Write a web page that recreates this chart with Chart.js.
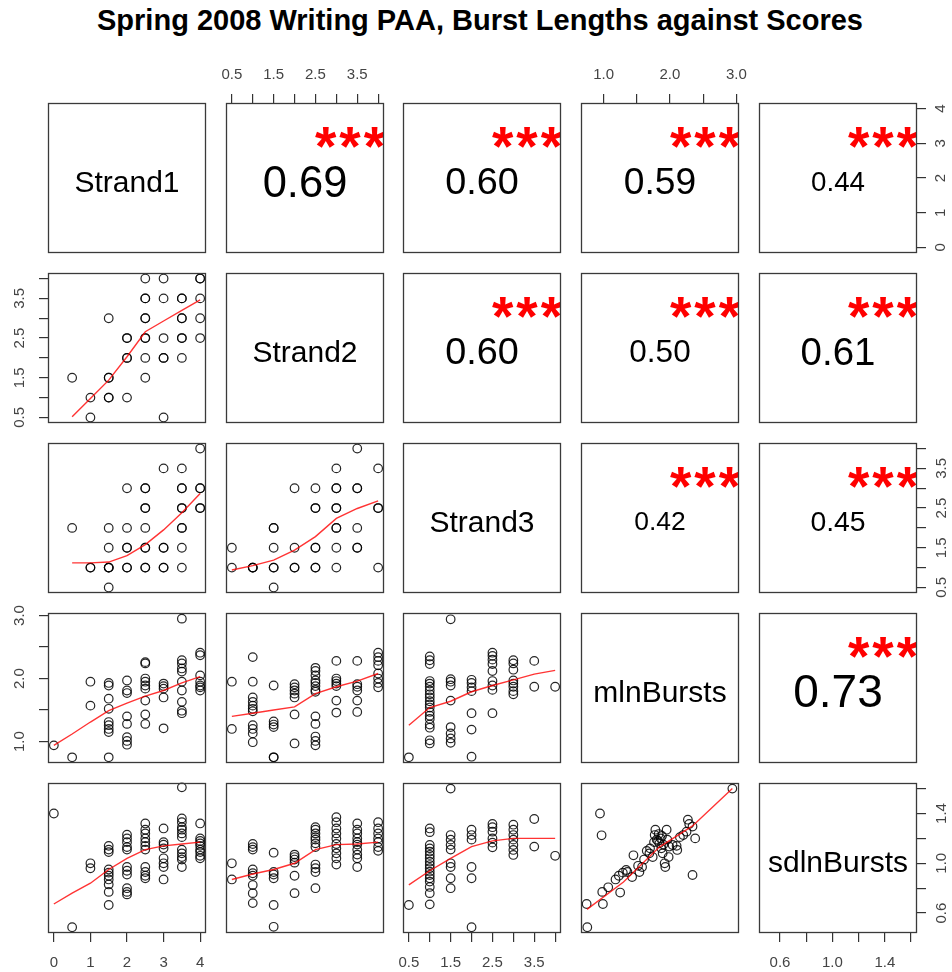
<!DOCTYPE html>
<html lang="en">
<head>
<meta charset="UTF-8">
<title>Spring 2008 Writing PAA, Burst Lengths against Scores</title>
<script src="https://cdn.jsdelivr.net/npm/chart.js"></script>
<style>
  body { margin: 0; background: #fff; }
  #wrap { position: relative; width: 952px; height: 972px; overflow: hidden; font-family: 'Liberation Sans', Arial, sans-serif; }
  #title { position: absolute; left: 4px; top: 6px; width: 952px; text-align: center; font-weight: bold; font-size: 29px; line-height: 29px; color: #000; }
  #wrap canvas { position: absolute; }
</style>
</head>
<body>
<div id="wrap">
  <div id="title">Spring 2008 Writing PAA, Burst Lengths against Scores</div>
</div>
<script>
// variables, axis ranges and ticks
const varNames = ['Strand1', 'Strand2', 'Strand3', 'mlnBursts', 'sdlnBursts'];
const axisMin = [-0.16, 0.36, 0.36, 0.66, 0.44];
const axisMax = [4.16, 4.14, 4.14, 3.04, 1.645];
const tickValues = [
  [0, 1, 2, 3, 4],
  [0.5, 1, 1.5, 2, 2.5, 3, 3.5, 4],
  [0.5, 1, 1.5, 2, 2.5, 3, 3.5, 4],
  [1, 1.5, 2, 2.5, 3],
  [0.6, 0.8, 1, 1.2, 1.4, 1.6]
];
const tickLabels = [
  ['0', '1', '2', '3', '4'],
  ['0.5', '', '1.5', '', '2.5', '', '3.5', ''],
  ['0.5', '', '1.5', '', '2.5', '', '3.5', ''],
  ['1.0', '', '2.0', '', '3.0'],
  ['0.6', '', '1.0', '', '1.4', '']
];

// upper triangle: correlations, row by row
const corrValues = [0.69, 0.60, 0.59, 0.44, 0.60, 0.50, 0.61, 0.42, 0.45, 0.73];
const corrStars = ['***', '***', '***', '***', '***', '***', '***', '***', '***', '***'];

// lower triangle scatter points [x, y]
const s1_s2 = [[2.5,4],[3,4],[4,4],[4,4],[2.5,3.5],[2.5,3.5],[3,3.5],[3.5,3.5],[3.5,3.5],[4,3.5],
  [1.5,3],[2.5,3],[2.5,3],[3.5,3],[3.5,3],[4,3],[2,2.5],[2,2.5],[2.5,2.5],[2.5,2.5],[3,2.5],[3.5,2.5],[3.5,2.5],[4,2.5],
  [2,2],[2,2],[2.5,2],[3,2],[3,2],[3.5,2],[0.5,1.5],[1.5,1.5],[1.5,1.5],[2.5,1.5],[1,1],[1.5,1],[1.5,1],[2,1],[1,0.5],[3,0.5]];
const s1_s3 = [[4,4],[3,3.5],[3.5,3.5],[2,3],[2.5,3],[2.5,3],[3.5,3],[3.5,3],[4,3],[4,3],
  [2.5,2.5],[2.5,2.5],[3.5,2.5],[3.5,2.5],[4,2.5],[4,2.5],[0.5,2],[1.5,2],[2,2],[2.5,2],[3.5,2],[3.5,2],
  [1.5,1.5],[2,1.5],[2,1.5],[2.5,1.5],[2.5,1.5],[3,1.5],[3,1.5],[3.5,1.5],
  [1,1],[1,1],[1.5,1],[1.5,1],[1.5,1],[2,1],[2,1],[2.5,1],[2.5,1],[3,1],[3,1],[3.5,1],[1.5,0.5]];
const s2_s3 = [[3.5,4],[3,3.5],[4,3.5],[2,3],[2.5,3],[3,3],[3,3],[3.5,3],[3.5,3],
  [2.5,2.5],[2.5,2.5],[3,2.5],[3,2.5],[4,2.5],[4,2.5],[1.5,2],[1.5,2],[3,2],[3,2],[3.5,2],
  [0.5,1.5],[1.5,1.5],[2,1.5],[2.5,1.5],[2.5,1.5],[3,1.5],[3.5,1.5],[3.5,1.5],
  [0.5,1],[1,1],[1,1],[1,1],[1.5,1],[1.5,1],[2,1],[2,1],[2.5,1],[2.5,1],[3,1],[4,1],[1.5,0.5]];
const s1_mln = [[0,0.94],[0.5,0.75],[1,1.95],[1,1.57],
  [1.5,1.93],[1.5,1.89],[1.5,1.68],[1.5,1.52],[1.5,1.31],[1.5,1.26],[1.5,1.20],[1.5,1.15],[1.5,0.75],
  [2,1.97],[2,1.81],[2,1.77],[2,1.40],[2,1.28],[2,1.07],[2,1.01],[2,0.95],
  [2.5,2.26],[2.5,2.24],[2.5,2.00],[2.5,1.95],[2.5,1.89],[2.5,1.84],[2.5,1.65],[2.5,1.43],[2.5,1.28],
  [3,1.92],[3,1.88],[3,1.84],[3,1.70],[3,1.21],
  [3.5,2.95],[3.5,2.29],[3.5,2.24],[3.5,2.16],[3.5,2.11],[3.5,1.95],[3.5,1.81],[3.5,1.63],[3.5,1.49],[3.5,1.45],
  [4,2.41],[4,2.37],[4,2.05],[4,1.95],[4,1.89],[4,1.86],[4,1.81]];
const s2_mln = [[0.5,1.95],[0.5,1.20],
  [1,2.34],[1,1.95],[1,1.70],[1,1.63],[1,1.57],[1,1.52],[1,1.48],[1,1.26],[1,1.20],[1,1.13],[1,0.99],
  [1.5,1.89],[1.5,1.32],[1.5,1.27],[1.5,1.23],[1.5,0.75],[1.5,0.75],
  [2,1.91],[2,1.86],[2,1.81],[2,1.76],[2,1.70],[2,1.43],[2,0.97],
  [2.5,2.17],[2.5,2.12],[2.5,2.05],[2.5,1.97],[2.5,1.93],[2.5,1.88],[2.5,1.82],[2.5,1.79],[2.5,1.40],[2.5,1.28],[2.5,1.08],[2.5,1.01],[2.5,0.94],
  [3,2.28],[3,2.00],[3,1.96],[3,1.92],[3,1.88],[3,1.65],[3,1.46],
  [3.5,2.28],[3.5,1.91],[3.5,1.87],[3.5,1.81],[3.5,1.65],[3.5,1.47],
  [4,2.41],[4,2.34],[4,2.28],[4,2.21],[4,2.08],[4,2.00],[4,1.93],[4,1.86]];
const s3_mln = [[0.5,0.75],
  [1,2.35],[1,2.29],[1,2.23],[1,1.96],[1,1.92],[1,1.87],[1,1.81],[1,1.75],[1,1.70],[1,1.64],[1,1.59],[1,1.54],[1,1.47],[1,1.41],[1,1.36],[1,1.27],[1,1.22],[1,1.02],[1,0.97],
  [1.5,2.94],[1.5,1.99],[1.5,1.95],[1.5,1.89],[1.5,1.65],[1.5,1.23],[1.5,1.13],[1.5,1.05],[1.5,0.98],
  [2,1.98],[2,1.93],[2,1.86],[2,1.80],[2,1.45],[2,1.19],[2,0.76],
  [2.5,2.41],[2.5,2.36],[2.5,2.30],[2.5,2.23],[2.5,2.12],[2.5,1.96],[2.5,1.89],[2.5,1.82],[2.5,1.45],
  [3,2.29],[3,2.24],[3,2.14],[3,1.97],[3,1.92],[3,1.87],[3,1.80],[3,1.75],
  [3.5,2.28],[3.5,1.87],[4,1.87]];
const s1_sd = [[0,1.40],[0.5,0.486],[1,1.00],[1,0.96],
  [1.5,1.14],[1.5,1.11],[1.5,1.09],[1.5,0.95],[1.5,0.925],[1.5,0.90],[1.5,0.87],[1.5,0.83],[1.5,0.77],[1.5,0.665],
  [2,1.23],[2,1.20],[2,1.17],[2,1.13],[2,1.11],[2,0.97],[2,0.94],[2,0.91],[2,0.80],[2,0.77],[2,0.75],
  [2.5,1.32],[2.5,1.27],[2.5,1.24],[2.5,1.20],[2.5,1.17],[2.5,1.14],[2.5,1.11],[2.5,0.97],[2.5,0.93],[2.5,0.90],[2.5,0.88],
  [3,1.28],[3,1.17],[3,1.15],[3,1.12],[3,1.04],[3,1.00],[3,0.97],[3,0.87],
  [3.5,1.61],[3.5,1.36],[3.5,1.33],[3.5,1.29],[3.5,1.27],[3.5,1.24],[3.5,1.21],[3.5,1.11],[3.5,1.08],[3.5,1.05],[3.5,1.03],[3.5,0.97],
  [4,1.32],[4,1.20],[4,1.18],[4,1.16],[4,1.14],[4,1.11],[4,1.09],[4,1.06],[4,1.04]];
const s2_sd = [[0.5,1.00],[0.5,0.87],
  [1,1.155],[1,1.13],[1,1.11],[1,0.95],[1,0.92],[1,0.90],[1,0.825],[1,0.76],[1,0.68],
  [1.5,1.085],[1.5,0.93],[1.5,0.91],[1.5,0.88],[1.5,0.665],[1.5,0.49],
  [2,1.07],[2,1.05],[2,1.03],[2,1.005],[2,0.90],[2,0.76],
  [2.5,1.29],[2.5,1.27],[2.5,1.24],[2.5,1.21],[2.5,1.19],[2.5,1.16],[2.5,1.13],[2.5,0.99],[2.5,0.96],[2.5,0.93],[2.5,0.80],
  [3,1.37],[3,1.33],[3,1.28],[3,1.24],[3,1.20],[3,1.155],[3,1.12],[3,1.08],[3,1.04],[3,0.99],
  [3.5,1.32],[3.5,1.27],[3.5,1.24],[3.5,1.20],[3.5,1.17],[3.5,1.15],[3.5,1.11],[3.5,1.07],[3.5,1.04],[3.5,0.97],
  [4,1.33],[4,1.28],[4,1.24],[4,1.20],[4,1.17],[4,1.13],[4,1.10]];
const s3_sd = [[0.5,0.665],
  [1,1.28],[1,1.25],[1,1.147],[1,1.12],[1,1.094],[1,1.067],[1,1.04],[1,1.013],[1,0.986],[1,0.96],[1,0.933],[1,0.906],[1,0.88],[1,0.853],[1,0.81],[1,0.76],[1,0.67],
  [1.5,1.60],[1.5,1.227],[1.5,1.19],[1.5,1.147],[1.5,1.11],[1.5,1.00],[1.5,0.97],[1.5,0.88],[1.5,0.80],
  [2,1.27],[2,1.227],[2,1.19],[2,0.97],[2,0.88],[2,0.486],
  [2.5,1.316],[2.5,1.29],[2.5,1.254],[2.5,1.20],[2.5,1.166],[2.5,1.128],
  [3,1.31],[3,1.27],[3,1.227],[3,1.19],[3,1.147],[3,1.107],[3,1.067],
  [3.5,1.356],[3.5,1.134],[4,1.06]];
const mln_sd = [[2.94,1.60],[0.755,0.486],[0.745,0.673],[0.946,1.40],[0.97,1.225],[0.99,0.673],[0.98,0.77],
  [1.07,0.807],[1.18,0.87],[1.25,0.765],[1.23,0.90],[1.29,0.925],[1.34,0.946],[1.36,0.93],[1.43,0.89],[1.45,1.064],
  [1.52,0.98],[1.54,0.93],[1.58,0.97],[1.61,1.03],[1.65,1.10],[1.69,1.08],[1.70,1.12],[1.74,1.05],[1.76,1.17],
  [1.77,1.227],[1.78,1.27],[1.80,1.19],[1.82,1.18],[1.83,1.235],[1.84,1.16],[1.86,1.20],[1.87,1.12],[1.88,1.22],
  [1.89,1.08],[1.90,1.15],[1.92,1.00],[1.93,0.97],[1.95,1.27],[1.96,1.19],[1.98,1.05],[1.99,1.134],[2.04,1.147],
  [2.10,1.14],[2.11,1.107],[2.15,1.21],[2.20,1.227],[2.25,1.254],[2.27,1.35],[2.29,1.316],[2.34,1.295],[2.38,1.20],[2.34,0.906]];

// red smoother lines
const fit_s1_s2 = [[0.5,0.52],[1,0.98],[1.5,1.44],[2,2.03],[2.5,2.66],[3,2.93],[3.5,3.2],[4,3.46]];
const fit_s1_s3 = [[0.5,1.12],[1,1.12],[1.5,1.14],[2,1.3],[2.5,1.58],[3,1.95],[3.5,2.38],[4,2.87]];
const fit_s2_s3 = [[0.5,0.94],[1,1.05],[1.5,1.19],[2,1.44],[2.5,1.78],[3,2.24],[3.5,2.49],[4,2.68]];
const fit_s1_mln = [[0,0.94],[0.5,1.12],[1,1.31],[1.5,1.49],[2,1.61],[2.5,1.72],[3,1.81],[3.5,1.93],[4,2.03]];
const fit_s2_mln = [[0.5,1.40],[1,1.45],[1.5,1.5],[2,1.55],[2.5,1.76],[3,1.87],[3.5,1.96],[4,2.08]];
const fit_s3_mln = [[0.5,1.26],[1,1.54],[1.5,1.64],[2,1.79],[2.5,1.89],[3,1.98],[3.5,2.07],[4,2.13]];
const fit_s1_sd = [[0,0.673],[0.5,0.76],[1,0.84],[1.5,0.95],[2,1.04],[2.5,1.11],[3,1.14],[3.5,1.155],[4,1.17]];
const fit_s2_sd = [[0.5,0.87],[1,0.914],[1.5,0.95],[2,1.00],[2.5,1.11],[3,1.15],[3.5,1.155],[4,1.17]];
const fit_s3_sd = [[0.5,0.826],[1,0.94],[1.5,1.04],[2,1.134],[2.5,1.18],[3,1.20],[3.5,1.20],[4,1.20]];
const fit_mln_sd = [[0.75,0.63],[1.3,0.85],[1.84,1.13],[2.34,1.30],[2.94,1.60]];

const lowerPanels = {
  '1,0': [s1_s2, fit_s1_s2], '2,0': [s1_s3, fit_s1_s3], '2,1': [s2_s3, fit_s2_s3],
  '3,0': [s1_mln, fit_s1_mln], '3,1': [s2_mln, fit_s2_mln], '3,2': [s3_mln, fit_s3_mln],
  '4,0': [s1_sd, fit_s1_sd], '4,1': [s2_sd, fit_s2_sd], '4,2': [s3_sd, fit_s3_sd], '4,3': [mln_sd, fit_mln_sd]
};

// layout of the matrix
const colLeft = [48, 226, 403, 581, 759];
const rowTop = [103, 273, 443, 613, 783];
const PW = 158, PH = 150, M = 45, TICK = 9;
const FONT = "'Liberation Sans', Arial, sans-serif";

Chart.defaults.font.family = FONT;

function drawCentered(ctx, text, cx, cy, font, color, spacing) {
  ctx.font = font;
  ctx.fillStyle = color;
  ctx.textAlign = 'center';
  ctx.textBaseline = 'alphabetic';
  if ('letterSpacing' in ctx) ctx.letterSpacing = (spacing || 0) + 'px';
  const m = ctx.measureText(text);
  ctx.fillText(text, cx + (spacing || 0) / 2, cy + (m.actualBoundingBoxAscent - m.actualBoundingBoxDescent) / 2);
  if ('letterSpacing' in ctx) ctx.letterSpacing = '0px';
}

const measureCtx = document.createElement('canvas').getContext('2d');
function widestLabel(v) {
  measureCtx.font = '15px ' + FONT;
  return Math.max(...tickLabels[v].map(t => measureCtx.measureText(t).width));
}

const panelDecor = {
  id: 'panelDecor',
  afterDatasetsDraw(chart) {
    const {ctx, chartArea: a} = chart;
    const p = chart.options.plugins.panelDecor;
    const cx = (a.left + a.right) / 2, cy = (a.top + a.bottom) / 2;
    ctx.save();
    if (p.kind === 'diag') {
      drawCentered(ctx, p.text, cx, cy + 3, '30px ' + FONT, '#000');
    } else if (p.kind === 'upper') {
      drawCentered(ctx, p.r.toFixed(2), cx, cy + 3, (63 * p.r) + 'px ' + FONT, '#000');
      ctx.save();
      ctx.beginPath();
      ctx.rect(a.left, a.top, a.width, a.height);
      ctx.clip();
      drawCentered(ctx, p.stars, a.left + 124, a.top + 34, 'bold 55px ' + FONT, '#ff0000', 3);
      ctx.restore();
    }
    ctx.strokeStyle = '#3a3a3a';
    ctx.lineWidth = 1.3;
    ctx.strokeRect(a.left + 0.5, a.top + 0.5, a.width - 1, a.height - 1);
    ctx.restore();
  }
};

function scaleOpts(v, axis, pos, shown, pad) {
  const o = {
    type: 'linear',
    min: axisMin[v],
    max: axisMax[v],
    display: shown,
    position: pos,
    afterBuildTicks: s => { s.ticks = tickValues[v].map(t => ({value: t})); },
    grid: {drawOnChartArea: false, drawTicks: true, tickLength: TICK, color: '#333', lineWidth: 1.2},
    border: {display: false},
    ticks: {
      autoSkip: false,
      color: '#444',
      font: {size: 15},
      padding: pad,
      callback: (val, i) => tickLabels[v][i]
    }
  };
  if (axis === 'x') {
    if (shown) o.afterFit = s => { s.height = M; };
    o.ticks.minRotation = 0;
    o.ticks.maxRotation = 0;
  } else {
    if (shown) o.afterFit = s => { s.width = M; };
    o.ticks.minRotation = 90;
    o.ticks.maxRotation = 90;
    o.ticks.crossAlign = 'center';
  }
  return o;
}

const wrap = document.getElementById('wrap');
let corrIdx = 0;

for (let r = 0; r < 5; r++) {
  for (let c = 0; c < 5; c++) {
    const cv = document.createElement('canvas');
    cv.width = PW + 2 * M;
    cv.height = PH + 2 * M;
    cv.style.left = (colLeft[c] - M) + 'px';
    cv.style.top = (rowTop[r] - M) + 'px';
    wrap.appendChild(cv);

    const xTop = r === 0 && c % 2 === 1;
    const xBottom = r === 4 && c % 2 === 0;
    const yLeft = c === 0 && r % 2 === 1;
    const yRight = c === 4 && r % 2 === 0;

    const xPad = xTop ? 10 : 12;
    const yPad = yLeft ? Math.round(28.5 - TICK - widestLabel(r) / 2)
                       : Math.round(24 - TICK - widestLabel(r) / 2);

    let decor = {kind: 'lower'};
    const datasets = [];
    if (r === c) {
      decor = {kind: 'diag', text: varNames[r]};
    } else if (r < c) {
      decor = {kind: 'upper', r: corrValues[corrIdx], stars: corrStars[corrIdx]};
      corrIdx++;
    } else {
      const [pts, fit] = lowerPanels[r + ',' + c];
      datasets.push({
        type: 'line',
        data: fit.map(([x, y]) => ({x, y})),
        borderColor: 'rgba(255,0,0,0.8)',
        borderWidth: 1.4,
        pointRadius: 0,
        tension: 0,
        fill: false
      });
      datasets.push({
        type: 'scatter',
        data: pts.map(([x, y]) => ({x, y})),
        pointRadius: 4.3,
        pointBorderWidth: 1.2,
        pointBorderColor: 'rgba(0,0,0,0.85)',
        pointBackgroundColor: 'rgba(0,0,0,0)',
        clip: false
      });
    }

    new Chart(cv, {
      type: 'scatter',
      data: {datasets},
      options: {
        responsive: false,
        animation: false,
        events: [],
        layout: {padding: {top: xTop ? 0 : M, bottom: xBottom ? 0 : M, left: yLeft ? 0 : M, right: yRight ? 0 : M}},
        scales: {
          x: scaleOpts(c, 'x', xTop ? 'top' : 'bottom', xTop || xBottom, xPad),
          y: scaleOpts(r, 'y', yLeft ? 'left' : 'right', yLeft || yRight, yPad)
        },
        plugins: {legend: {display: false}, tooltip: {enabled: false}, panelDecor: decor}
      },
      plugins: [panelDecor]
    });
  }
}
</script>
</body>
</html>
